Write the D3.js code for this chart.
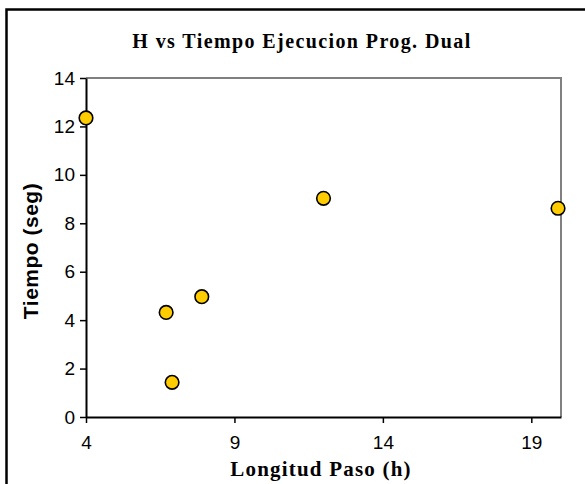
<!DOCTYPE html>
<html>
<head>
<meta charset="utf-8">
<script src="https://cdn.jsdelivr.net/npm/d3@7"></script>
<style>
  body { margin: 0; background: #fff; }
  svg { display: block; }
  .tick text { font-family: "Liberation Sans", Arial, sans-serif; font-size: 19px; fill: #000; }
</style>
</head>
<body>
<svg id="chart" width="585" height="484"></svg>
<script>
// longitud de paso h vs tiempo (seg)
const pasoH = [4, 6.7, 6.9, 7.9, 12, 19.9];
const tiempoSeg = [12.35, 4.32, 1.43, 4.97, 9.03, 8.62];
const xTicks = [4, 9, 14, 19];
const yTicks = [0, 2, 4, 6, 8, 10, 12, 14];

const svg = d3.select('#chart');

const plotLeft = 86, plotRight = 561, plotTop = 78, plotBottom = 417;

// outer chart border (right/bottom fall outside the picture)
svg.append('rect')
    .attr('x', 6.5)
    .attr('y', 9.5)
    .attr('width', 620)
    .attr('height', 520)
    .attr('fill', 'none')
    .attr('stroke', '#000')
    .attr('stroke-width', 2.5);

const xScale = d3.scaleLinear()
    .domain([4, 20])
    .range([plotLeft, plotRight]);

const yScale = d3.scaleLinear()
    .domain([0, 14])
    .range([plotBottom, plotTop]);

// plot frame, grey on top and right
svg.append('path')
    .attr('d', `M${plotLeft},${plotTop}H${plotRight}V${plotBottom}`)
    .attr('fill', 'none')
    .attr('stroke', '#808080')
    .attr('stroke-width', 2);

const xAxis = svg.append('g')
    .attr('transform', `translate(0, ${plotBottom})`)
    .call(d3.axisBottom(xScale)
        .tickValues(xTicks)
        .tickSize(6)
        .tickSizeOuter(0)
        .tickPadding(13)
        .tickFormat(d3.format('d')));

const yAxis = svg.append('g')
    .attr('transform', `translate(${plotLeft}, 0)`)
    .call(d3.axisLeft(yScale)
        .tickValues(yTicks)
        .tickSize(6)
        .tickSizeOuter(0)
        .tickPadding(5)
        .tickFormat(d3.format('d')));

[xAxis, yAxis].forEach(ax => {
    ax.attr('font-family', null).attr('font-size', null);
    ax.select('.domain').attr('stroke', '#000').attr('stroke-width', 2);
    ax.selectAll('.tick line').attr('stroke', '#000').attr('stroke-width', 1.5);
});

svg.selectAll('circle.pt')
    .data(pasoH)
    .enter()
    .append('circle')
    .attr('class', 'pt')
    .attr('cx', (d) => xScale(d))
    .attr('cy', (d, i) => yScale(tiempoSeg[i]))
    .attr('r', 6.8)
    .attr('fill', '#FFCC00')
    .attr('stroke', '#000')
    .attr('stroke-width', 1.6);

svg.append('text')
    .attr('x', 302)
    .attr('y', 47.5)
    .attr('text-anchor', 'middle')
    .style('font-family', '"Liberation Serif", "Times New Roman", serif')
    .style('font-weight', 'bold')
    .style('font-size', '20px')
    .style('letter-spacing', '1.4px')
    .text('H vs Tiempo Ejecucion Prog. Dual');

svg.append('text')
    .attr('x', 321)
    .attr('y', 476)
    .attr('text-anchor', 'middle')
    .style('font-family', '"Liberation Serif", "Times New Roman", serif')
    .style('font-weight', 'bold')
    .style('font-size', '21px')
    .style('letter-spacing', '1.2px')
    .text('Longitud Paso (h)');

svg.append('text')
    .attr('transform', 'translate(38, 251) rotate(-90)')
    .attr('text-anchor', 'middle')
    .style('font-family', '"Liberation Sans", Arial, sans-serif')
    .style('font-weight', 'bold')
    .style('font-size', '21px')
    .style('letter-spacing', '0.5px')
    .text('Tiempo (seg)');
</script>
</body>
</html>
